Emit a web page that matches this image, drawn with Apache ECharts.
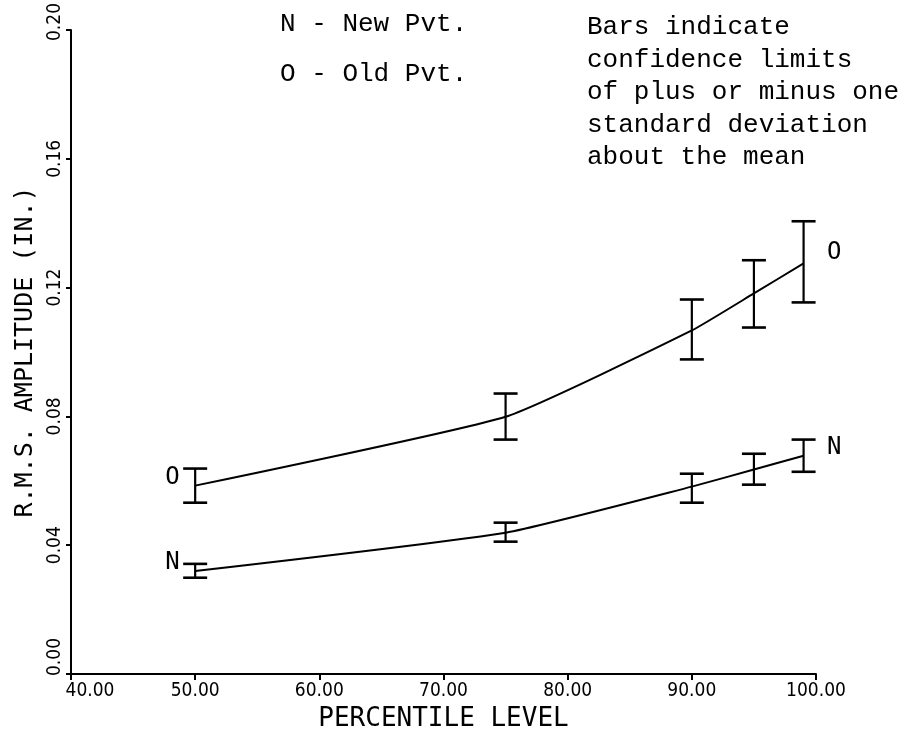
<!DOCTYPE html>
<html>
<head>
<meta charset="utf-8">
<script src="https://cdn.jsdelivr.net/npm/echarts@6/dist/echarts.min.js"></script>
<style>
  html, body { margin: 0; padding: 0; background: #fff; }
  #main { width: 906px; height: 739px; }
</style>
</head>
<body>
<div id="main"></div>
<script>
// percentile levels
var pct = [50, 75, 90, 95, 99];

// Old pavement: mean and +/- one std dev
var oldMean = [0.0585, 0.0799, 0.1067, 0.1182, 0.1275];
var oldLow  = [0.0532, 0.0728, 0.0977, 0.1076, 0.1154];
var oldHigh = [0.0638, 0.0871, 0.1163, 0.1285, 0.1406];

// New pavement
var newMean = [0.0320, 0.0439, 0.0582, 0.0635, 0.0678];
var newLow  = [0.0299, 0.0411, 0.0532, 0.0588, 0.0628];
var newHigh = [0.0342, 0.0470, 0.0622, 0.0684, 0.0728];

var xTicks = [40, 50, 60, 70, 80, 90, 100];
var yTicks = [0, 0.04, 0.08, 0.12, 0.16, 0.20];

var noteLeft = ['N - New Pvt.', 'O - Old Pvt.'];
var noteRight = ['Bars indicate', 'confidence limits', 'of plus or minus one',
                 'standard deviation', 'about the mean'];

var plotFont = 'DejaVu Sans Mono';
var tickFont = '"DejaVu Sans Condensed", "DejaVu Sans"';
var typeFont = 'Liberation Mono';

var myChart = echarts.init(document.getElementById('main'));

function meanData(ys, tag) {
	return ys.map(function (y, i) {
		var item = { value: [pct[i], y] };
		if (i === 0) {
			item.label = { show: true, position: 'left', distance: 15, offset: [0, -8], formatter: tag };
		} else if (i === ys.length - 1) {
			item.label = { show: true, position: 'right', distance: 23, offset: [0, tag === 'O' ? -11 : -8], formatter: tag };
		}
		return item;
	});
}
function errData(lo, hi) {
	return pct.map(function (x, i) { return [x, lo[i], hi[i]]; });
}
function renderBar(params, api) {
	var top = api.coord([api.value(0), api.value(2)]);
	var bot = api.coord([api.value(0), api.value(1)]);
	var w = 12;
	var cap = { stroke: '#000', lineWidth: 2.6 };
	return {
		type: 'group',
		children: [
			{ type: 'line', shape: { x1: top[0], y1: top[1], x2: bot[0], y2: bot[1] }, style: { stroke: '#000', lineWidth: 2.2 } },
			{ type: 'line', shape: { x1: top[0] - w, y1: top[1], x2: top[0] + w, y2: top[1] }, style: cap },
			{ type: 'line', shape: { x1: bot[0] - w, y1: bot[1], x2: bot[0] + w, y2: bot[1] }, style: cap }
		]
	};
}

var labelStyle = { color: '#000', fontFamily: plotFont, fontSize: 24 };
var meanLine = {
	type: 'line', symbol: 'circle', symbolSize: 1, showSymbol: true, smooth: 0.15,
	itemStyle: { color: 'rgba(0,0,0,0)' },
	lineStyle: { color: '#000', width: 2 },
	label: labelStyle
};
var tickText = { fontFamily: tickFont, fontSize: 19, color: '#000' };

var option = {
	animation: false,
	backgroundColor: '#fff',
	grid: { left: 71, right: 90, top: 30, bottom: 65, outerBoundsMode: 'none' },
	xAxis: {
		type: 'value',
		min: xTicks[0],
		max: xTicks[xTicks.length - 1],
		interval: 10,
		name: 'PERCENTILE LEVEL',
		nameLocation: 'middle',
		nameGap: 26,
		nameTextStyle: { color: '#000', fontFamily: plotFont, fontSize: 26 },
		axisLine: { lineStyle: { color: '#000', width: 2 } },
		axisTick: { length: 6, lineStyle: { color: '#000', width: 2 } },
		axisLabel: Object.assign({
			margin: 8,
			formatter: function (v) {
				return v === xTicks[0] ? '{s|' + v.toFixed(2) + '}' : v.toFixed(2);
			},
			rich: { s: Object.assign({ padding: [0, 0, 0, 38] }, tickText) }
		}, tickText),
		splitLine: { show: false }
	},
	yAxis: {
		type: 'value',
		min: yTicks[0],
		max: yTicks[yTicks.length - 1],
		interval: 0.04,
		name: 'R.M.S. AMPLITUDE (IN.)',
		nameLocation: 'middle',
		nameGap: 28,
		nameTextStyle: { color: '#000', fontFamily: plotFont, fontSize: 25 },
		axisLine: { lineStyle: { color: '#000', width: 2 } },
		axisTick: { length: 5, lineStyle: { color: '#000', width: 2 } },
		axisLabel: Object.assign({
			rotate: 90, margin: 6,
			formatter: function (v) {
				var t = v.toFixed(2);
				if (v === yTicks[0]) return '{lo|' + t + '}';
				if (v === yTicks[yTicks.length - 1]) return '{hi|' + t + '}';
				return t;
			},
			rich: {
				lo: Object.assign({ padding: [0, 0, 0, 34] }, tickText),
				hi: Object.assign({ padding: [0, 0, 0, 16] }, tickText)
			}
		}, tickText),
		splitLine: { show: false }
	},
	series: [
		Object.assign({ name: 'Old', data: meanData(oldMean, 'O') }, meanLine),
		Object.assign({ name: 'New', data: meanData(newMean, 'N') }, meanLine),
		{ type: 'custom', renderItem: renderBar, data: errData(oldLow, oldHigh), encode: { x: 0, y: [1, 2] } },
		{ type: 'custom', renderItem: renderBar, data: errData(newLow, newHigh), encode: { x: 0, y: [1, 2] } }
	],
	graphic: [
		{
			type: 'text', left: 280, top: 11,
			style: { text: noteLeft[0], fill: '#000', font: '26px "' + typeFont + '"' }
		},
		{
			type: 'text', left: 280, top: 61,
			style: { text: noteLeft[1], fill: '#000', font: '26px "' + typeFont + '"' }
		},
		{
			type: 'text', left: 587, top: 11,
			style: { text: noteRight.join('\n'), fill: '#000', font: '26px "' + typeFont + '"', lineHeight: 32.5 }
		}
	]
};

myChart.setOption(option);
</script>
</body>
</html>
